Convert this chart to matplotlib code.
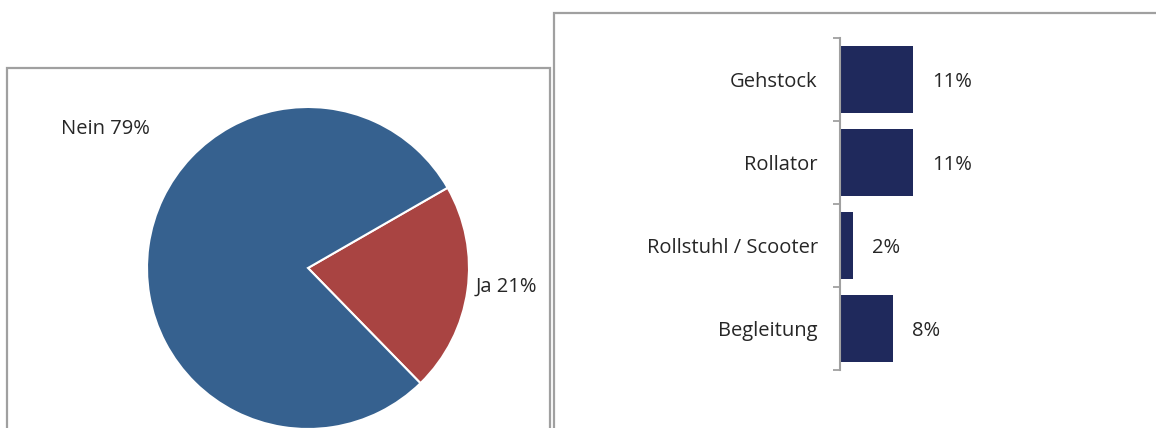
import matplotlib
matplotlib.use("Agg")
import matplotlib.pyplot as plt
from matplotlib.patches import Rectangle

plt.rcParams["font.family"] = ["Open Sans", "DejaVu Sans"]

# pie data
pie_labels = ["Ja", "Nein"]
pie_values = [21, 79]
pie_colors = ["#a94442", "#36618f"]

# bar data
bar_cats = ["Gehstock", "Rollator", "Rollstuhl / Scooter", "Begleitung"]
bar_values = [11, 11, 2, 8]

NAVY = "#1f295c"
GREY = "#a0a0a0"
TXT = "#262626"
FS = 14.5

W, H = 1156, 428
fig = plt.figure(figsize=(W / 100, H / 100), dpi=100)

# panel frames
fig.patches.append(Rectangle((7 / W, -0.05), (550 - 7) / W, 1.05 - 68 / H,
                             transform=fig.transFigure, fill=False,
                             edgecolor=GREY, linewidth=1.6))
fig.patches.append(Rectangle((554 / W, -0.05), 0.6, 1.05 - 13 / H,
                             transform=fig.transFigure, fill=False,
                             edgecolor=GREY, linewidth=1.6))

# pie
cx, cy, r = 308, 268, 161
axp = fig.add_axes([(cx - r) / W, 1 - (cy + r) / H, 2 * r / W, 2 * r / H])
wedges, _ = axp.pie(pie_values, colors=pie_colors, startangle=-45.7,
                    counterclock=True, radius=1,
                    wedgeprops=dict(edgecolor="white", linewidth=1.5))
axp.set_xlim(-1, 1)
axp.set_ylim(-1, 1)
axp.axis("off")
axp.text(-1.26, 0.88, f"{pie_labels[1]} {pie_values[1]}%", ha="center",
         va="center_baseline", fontsize=FS, color=TXT, clip_on=False)
axp.text(1.04, -0.1, f"{pie_labels[0]} {pie_values[0]}%", ha="left",
         va="center_baseline", fontsize=FS, color=TXT, clip_on=False)

# bars
x0, x1, y0, y1 = 840, 1140, 38, 370
axb = fig.add_axes([x0 / W, 1 - y1 / H, (x1 - x0) / W, (y1 - y0) / H])
pos = list(range(len(bar_cats)))
axb.barh(pos, bar_values, height=0.8, color=NAVY, edgecolor="none")
axb.set_xlim(0, 45)
axb.set_ylim(len(bar_cats) - 0.5, -0.5)
for p, v in zip(pos, bar_values):
    axb.text(v + 2.8, p, f"{v}%", ha="left", va="center_baseline",
             fontsize=FS, color=TXT)
axb.set_yticks([p - 0.5 for p in pos] + [len(pos) - 0.5])
axb.set_yticklabels([])
axb.set_yticks(pos, minor=True)
axb.set_yticklabels(bar_cats, minor=True, fontsize=FS, color=TXT)
axb.tick_params(axis="y", which="major", length=5, width=1.3, color=GREY)
axb.tick_params(axis="y", which="minor", length=0, pad=16)
axb.set_xticks([])
for s in ("top", "right", "bottom"):
    axb.spines[s].set_visible(False)
axb.spines["left"].set_color(GREY)
axb.spines["left"].set_linewidth(1.5)

fig.savefig("out.png", dpi=100, facecolor="white")
